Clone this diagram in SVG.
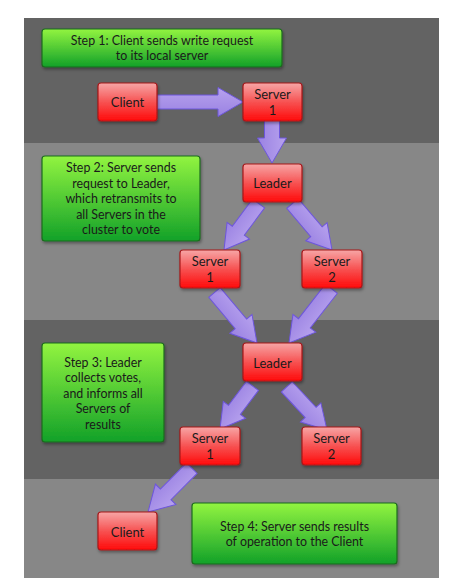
<svg xmlns="http://www.w3.org/2000/svg" width="462" height="586" viewBox="0 0 462 586">
<defs>
<linearGradient id="gRed" x1="0" y1="0" x2="0" y2="1">
<stop offset="0" stop-color="#f7a6a6"/>
<stop offset="0.5" stop-color="#f75252"/>
<stop offset="1" stop-color="#ff0a0a"/>
</linearGradient>
<linearGradient id="gGreen" x1="0" y1="0" x2="0" y2="1">
<stop offset="0" stop-color="#92f440"/>
<stop offset="1" stop-color="#12a129"/>
</linearGradient>
<linearGradient id="gArrow" x1="0" y1="0" x2="0" y2="1">
<stop offset="0" stop-color="#b7a2ee"/>
<stop offset="1" stop-color="#9a82e2"/>
</linearGradient>
<filter id="sh" x="-20%" y="-20%" width="140%" height="150%">
<feDropShadow dx="1" dy="2" stdDeviation="1.5" flood-color="#000" flood-opacity="0.35"/>
</filter>
</defs>
<style>
.node rect{fill:url(#gRed);stroke:#a8181a;stroke-width:1.2;filter:url(#sh)}
.step rect{fill:url(#gGreen);stroke:#1c6b1e;stroke-width:1.2;filter:url(#sh)}
text{font-family:Lato,"Open Sans","DejaVu Sans",sans-serif;font-size:12.4px;fill:#1a1a1a;text-anchor:middle}
.node text{font-size:13px}
.arrow{fill:url(#gArrow);stroke:#6d56dc;stroke-width:1}
</style>
<g id="background">
<rect x="24" y="18" width="415" height="125" fill="#636363"/>
<rect x="24" y="143" width="415" height="177" fill="#878787"/>
<rect x="24" y="320" width="415" height="159" fill="#636363"/>
<rect x="24" y="479" width="415" height="99" fill="#878787"/>
</g>
<g id="connectors">
<path class="arrow" transform="translate(243,102)" d="M-86,-7 L-25,-7 L-25,-14.5 L0,0 L-25,14.5 L-25,7 L-86,7 Z"/>
<path class="arrow" transform="translate(272,163) rotate(90)" d="M-44,-7.5 L-25,-7.5 L-25,-14.5 L0,0 L-25,14.5 L-25,7.5 L-44,7.5 Z"/>
<path class="arrow" transform="translate(224,250) rotate(126.6)" d="M-58,-7.5 L-24,-7.5 L-24,-14 L0,0 L-24,14 L-24,7.5 L-58,7.5 Z"/>
<path class="arrow" transform="translate(332,250) rotate(49.6)" d="M-61,-7.5 L-24,-7.5 L-24,-14 L0,0 L-24,14 L-24,7.5 L-61,7.5 Z"/>
<path class="arrow" transform="translate(257,343) rotate(49.9)" d="M-66,-7.5 L-25,-7.5 L-25,-14.5 L0,0 L-25,14.5 L-25,7.5 L-66,7.5 Z"/>
<path class="arrow" transform="translate(289,343) rotate(128)" d="M-69,-7.5 L-25,-7.5 L-25,-14.5 L0,0 L-25,14.5 L-25,7.5 L-69,7.5 Z"/>
<path class="arrow" transform="translate(220,429) rotate(127)" d="M-54,-7.5 L-24,-7.5 L-24,-14 L0,0 L-24,14 L-24,7.5 L-54,7.5 Z"/>
<path class="arrow" transform="translate(327,430) rotate(47)" d="M-59,-7.5 L-24,-7.5 L-24,-14 L0,0 L-24,14 L-24,7.5 L-59,7.5 Z"/>
<path class="arrow" transform="translate(148,512) rotate(135)" d="M-62,-7.5 L-25,-7.5 L-25,-14.5 L0,0 L-25,14.5 L-25,7.5 L-62,7.5 Z"/>
</g>
<g id="step1" class="step">
<rect x="42" y="29" width="240" height="38" rx="3"/>
<text x="162" y="45">Step 1: Client sends write request</text>
<text x="162" y="60">to its local server</text>
</g>
<g id="client1" class="node">
<rect x="98" y="83" width="59" height="38" rx="3"/>
<text x="127.5" y="106.5">Client</text>
</g>
<g id="server1a" class="node">
<rect x="243" y="83" width="59" height="38" rx="3"/>
<text x="272.5" y="99">Server</text>
<text x="272.5" y="114.5">1</text>
</g>
<g id="step2" class="step">
<rect x="42" y="156" width="158" height="85" rx="3"/>
<text x="121" y="172">Step 2: Server sends</text>
<text x="121" y="188">request to Leader,</text>
<text x="121" y="203">which retransmits to</text>
<text x="121" y="219">all Servers in the</text>
<text x="121" y="234">cluster to vote</text>
</g>
<g id="leader1" class="node">
<rect x="243" y="164" width="59" height="38" rx="3"/>
<text x="272.5" y="187.5">Leader</text>
</g>
<g id="server1b" class="node">
<rect x="180" y="250" width="60" height="38" rx="3"/>
<text x="210" y="266">Server</text>
<text x="210" y="281.5">1</text>
</g>
<g id="server2b" class="node">
<rect x="302" y="250" width="60" height="38" rx="3"/>
<text x="332" y="266">Server</text>
<text x="332" y="281.5">2</text>
</g>
<g id="step3" class="step">
<rect x="42" y="343" width="122" height="99" rx="3"/>
<text x="103" y="367">Step 3: Leader</text>
<text x="103" y="382">collects votes,</text>
<text x="103" y="398">and informs all</text>
<text x="103" y="413">Servers of</text>
<text x="103" y="429">results</text>
</g>
<g id="leader2" class="node">
<rect x="243" y="343" width="59" height="38" rx="3"/>
<text x="272.5" y="367.5">Leader</text>
</g>
<g id="server1c" class="node">
<rect x="180" y="427" width="60" height="38" rx="3"/>
<text x="210" y="443">Server</text>
<text x="210" y="458.5">1</text>
</g>
<g id="server2c" class="node">
<rect x="302" y="427" width="59" height="38" rx="3"/>
<text x="331.5" y="443">Server</text>
<text x="331.5" y="458.5">2</text>
</g>
<g id="client2" class="node">
<rect x="98" y="512" width="59" height="38" rx="3"/>
<text x="127.5" y="536.5">Client</text>
</g>
<g id="step4" class="step">
<rect x="192" y="503" width="205" height="61" rx="3"/>
<text x="294.5" y="531">Step 4: Server sends results</text>
<text x="294.5" y="546">of operation to the Client</text>
</g>
</svg>
